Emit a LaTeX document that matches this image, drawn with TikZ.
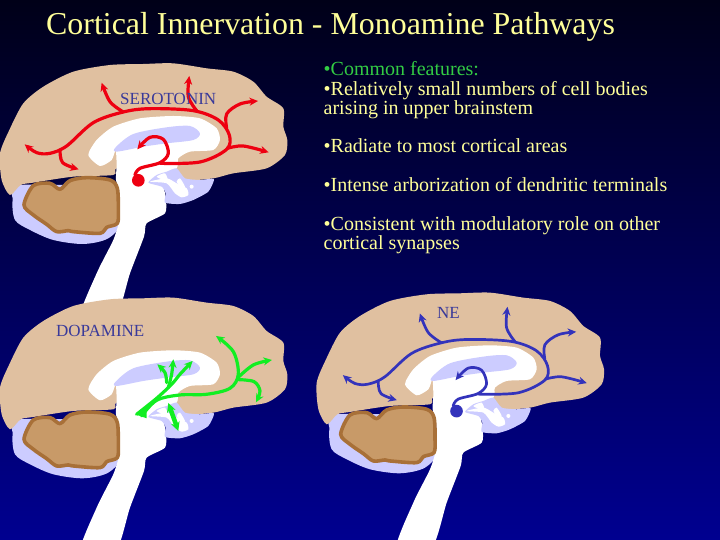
\documentclass[tikz,border=0pt]{standalone}
\usepackage{fontspec}
\setmainfont{Liberation Serif}
\usetikzlibrary{arrows.meta}
\definecolor{tanfill}{HTML}{E0C0A0}
\definecolor{brownfill}{HTML}{C89A68}
\definecolor{brownline}{HTML}{A87038}
\definecolor{lav}{HTML}{CCCCFF}
\definecolor{labelblue}{HTML}{3A3A9A}
\definecolor{bulletyellow}{HTML}{FFFF99}
\definecolor{featgreen}{HTML}{33CC44}
\definecolor{nered}{HTML}{EE0011}
\definecolor{nablue}{HTML}{3333BB}
\definecolor{dagreen}{HTML}{11EE22}
\definecolor{bgtop}{HTML}{000018}
\definecolor{bgbot}{HTML}{000090}
\tikzset{
  lab/.style={text=labelblue,font=\fontsize{17}{19}\selectfont,inner sep=0pt,anchor=base west},
  bodytext/.style={text=bulletyellow,font=\fontsize{20}{21}\selectfont,inner sep=0pt,anchor=base west},
  fibre/.style={line cap=round,line join=round,-{Stealth[length=8.5pt,width=8pt]}},
  sm/.style={smooth,tension=0.55},
}
\newcommand\brainbase[2]{%
\begin{scope}[shift={(#1,#2)},x=0.3333pt,y=-0.3333pt]
  \fill[lav] plot[smooth cycle,tension=0.5] coordinates{(60,435)(38,480)(45,540)(90,570)(160,600)(250,612)(325,595)(370,540)(350,450)};
  \fill[tanfill] plot[smooth cycle,tension=0.45] coordinates{(0,340)(28,270)(70,190)(130,140)(220,95)(330,75)(430,72)(520,70)(620,85)(700,95)(760,125)(800,170)(850,205)(850,260)(862,300)(855,345)(800,385)(700,400)(640,415)(560,420)(530,395)(440,385)(350,385)(340,405)(220,410)(100,428)(62,435)(30,465)(5,420)};
  \fill[white] plot[smooth cycle,tension=0.4] coordinates{(265,345)(290,300)(340,260)(420,235)(520,228)(600,235)(650,265)(660,300)(640,330)(570,335)(535,355)(530,385)(470,420)(490,440)(498,480)(495,520)(440,550)(432,590)(390,700)(345,835)(240,835)(290,700)(340,600)(358,540)(360,470)(348,420)(350,375)(347,330)(335,360)(300,378)};
  \fill[lav] plot[smooth cycle,tension=0.5] coordinates{(347,322)(400,282)(500,262)(570,258)(600,280)(580,300)(500,310)(430,320)(350,335)};
  \fill[lav] plot[smooth cycle,tension=0.35] coordinates{(445,428)(470,405)(500,395)(530,385)(555,415)(600,420)(642,417)(625,455)(580,480)(540,492)(495,488)(497,460)(485,440)};
  \fill[white] plot[smooth cycle,tension=0.4] coordinates{(450,425)(500,430)(525,460)(545,472)(565,465)(560,445)(530,430)(500,415)};
  \fill[white] plot[smooth cycle,tension=0.4] coordinates{(470,410)(495,400)(505,425)(490,420)};
  \fill[white] (575,440) circle (6);
  \fill[white] plot[smooth cycle,tension=0.4] coordinates{(530,425)(540,415)(555,440)(545,445)};
  \draw[brownline,line width=3.6pt,fill=brownfill,line join=round] plot[smooth cycle,tension=0.5] coordinates{(72,495)(100,437)(150,430)(180,448)(210,422)(260,413)(330,420)(352,445)(355,510)(352,550)(320,562)(300,580)(220,575)(205,572)(170,575)(140,553)(100,525)};
\end{scope}}
\newcommand\monoamine[4]{%
\begin{scope}[shift={(#1,#2)},x=0.3333pt,y=-0.3333pt,draw=#3,fill=#3,line width=#4]
  \fill (415,421) circle (19);
  \draw[fibre] plot[sm] coordinates{(405,405)(420,385)(480,368)(505,340)(490,298)(450,292)(412,328)};
  \draw[fibre] plot[sm] coordinates{(480,370)(600,366)(680,328)(688,285)(655,240)(580,212)(450,206)(370,216)(280,248)(200,318)(150,340)(110,338)(74,313)};
  \draw[fibre] plot[sm] coordinates{(370,216)(330,185)(305,128)};
  \draw[fibre] plot[sm] coordinates{(180,330)(188,368)(236,388)};
  \draw[fibre] plot[sm] coordinates{(590,212)(565,170)(568,108)};
  \draw[fibre] plot[sm] coordinates{(680,265)(680,222)(720,192)(774,183)};
  \draw[fibre] plot[sm] coordinates{(682,325)(730,318)(806,337)};
\end{scope}}
\begin{document}
\begin{tikzpicture}[x=1pt,y=-1pt]
\useasboundingbox (0,0) rectangle (720,540);
\clip (0,0) rectangle (720,540);
\shade[top color=bgtop,bottom color=bgbot] (0,0) rectangle (720,540);
\brainbase{0}{40}
\brainbase{0}{274.3}
\brainbase{316.7}{269.3}
\monoamine{0}{40}{nered}{3.2pt}
\monoamine{318.2}{270.8}{nablue}{2.7pt}
\begin{scope}[shift={(0,274.3)},x=0.3333pt,y=-0.3333pt,draw=dagreen,fill=dagreen,line width=3.2pt]
  \fill (405,420) -- (440,395) -- (440,432) -- cycle;
  \draw[fibre] plot[sm] coordinates{(425,425)(470,378)(540,362)(620,360)(690,342)(715,300)(700,232)(648,185)};
  \draw[fibre] plot[sm] coordinates{(712,312)(760,272)(816,257)};
  \draw[fibre] plot[sm] coordinates{(715,316)(762,322)(780,350)(768,384)};
  \draw[fibre] plot[sm] coordinates{(410,420)(470,372)(515,330)(540,300)(578,260)};
  \draw[fibre] plot[sm] coordinates{(505,340)(515,300)(520,255)};
  \draw[fibre] plot[sm] coordinates{(500,325)(495,295)(472,270)};
  \draw[line width=4.5pt,{Stealth[length=9pt,width=9pt]}-{Stealth[length=9pt,width=9pt]}] (505,386) -- (535,470);
\end{scope}
\node[lab] (ser) at (120,105) {SEROTONIN};
\node[lab] (dop) at (56,336) {DOPAMINE};
\node[lab] (ne) at (437,318) {NE};
\node[text=bulletyellow,font=\fontsize{31.9}{34}\selectfont,inner sep=0pt,anchor=base west] (title) at (46,35) {Cortical Innervation - Monoamine Pathways};
\node[bodytext,text=featgreen] (t1) at (323.5,76) {•Common features:};
\node[bodytext] (t2) at (323.5,95.5) {•Relatively small numbers of cell bodies};
\node[bodytext] (t3) at (323.5,115) {arising in upper brainstem};
\node[bodytext] (t4) at (323.5,152.7) {•Radiate to most cortical areas};
\node[bodytext] (t5) at (323.5,191.7) {•Intense arborization of dendritic terminals};
\node[bodytext] (t6) at (323.5,230) {•Consistent with modulatory role on other};
\node[bodytext] (t7) at (323.5,249) {cortical synapses};
\end{tikzpicture}
\end{document}
